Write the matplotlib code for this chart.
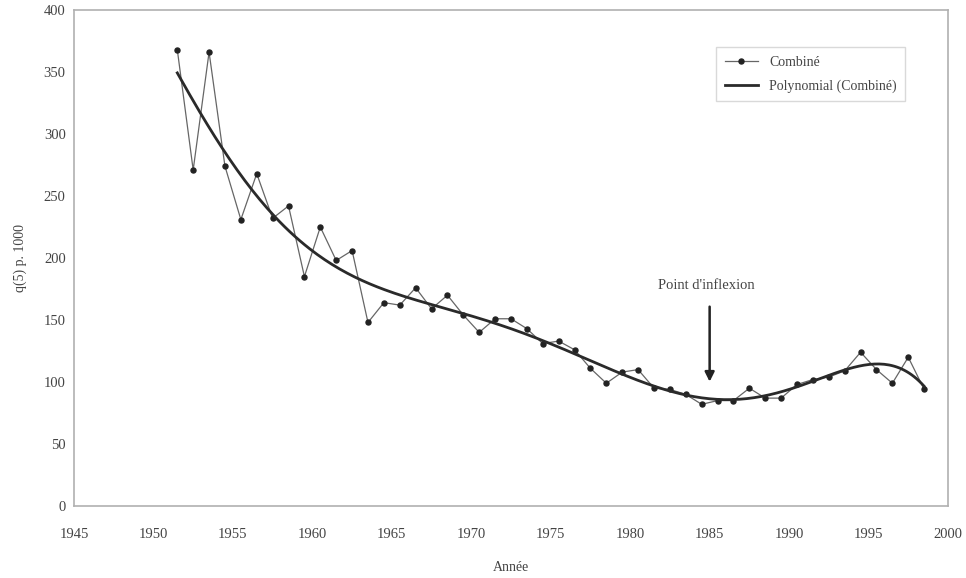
import numpy as np
import matplotlib.pyplot as plt

plt.rcParams['font.family'] = ['Liberation Serif', 'DejaVu Serif']

# Données : q(5) pour 1000, série combinée
annees = np.arange(1951.5, 1999.5, 1.0)
q5 = np.array([368, 271, 366, 274, 231, 268, 232, 242, 185, 225,
               198, 206, 148, 164, 162, 176, 159, 170, 154, 140,
               151, 151, 143, 131, 133, 126, 111, 99, 108, 110,
               95, 94, 90, 82, 85, 85, 95, 87, 87, 98,
               102, 104, 109, 124, 110, 99, 120, 94])

# Tendance polynomiale (ordre 6), x centré pour la stabilité
x0 = annees.mean()
coef = np.polyfit(annees - x0, q5, 6)
xs = np.linspace(annees[0], annees[-1], 300)
ys = np.polyval(coef, xs - x0)

fig = plt.figure(figsize=(9.66, 5.78), dpi=100)
ax = fig.add_axes([74/966, 1 - 506/578, (948-74)/966, (506-10)/578])

ax.plot(annees, q5, '-', color='#666666', lw=0.9, marker='o', ms=3.6,
        mfc='#222222', mec='#222222', label='Combiné')
ax.plot(xs, ys, '-', color='#2a2a2a', lw=2.0, label='Polynomial (Combiné)')

ax.set_xlim(1945, 2000)
ax.set_ylim(0, 400)
ax.set_xticks(np.arange(1945, 2001, 5))
ax.set_yticks(np.arange(0, 401, 50))
ax.tick_params(length=0, labelsize=10.5, colors='#444444')
ax.tick_params(axis='x', pad=16)
ax.tick_params(axis='y', pad=6)
for s in ax.spines.values():
    s.set_color('#b0b0b0')
    s.set_linewidth(1.2)

ax.set_xlabel('Année', fontsize=10, color='#444444', labelpad=14)
ax.set_ylabel('q(5) p. 1000', fontsize=10, color='#444444', labelpad=12)

# Flèche du point d'inflexion
ax.annotate('', xy=(1985, 98), xytext=(1985, 163),
            arrowprops=dict(arrowstyle='-|>', color='#222222', lw=1.8,
                            mutation_scale=14))
ax.text(1984.8, 178, "Point d'inflexion", ha='center', va='center',
        fontsize=10.5, color='#444444')

leg = ax.legend(loc='upper right', bbox_to_anchor=(0.951, 0.925),
                borderaxespad=0, fontsize=10, frameon=True, fancybox=False,
                handlelength=2.4, borderpad=0.6, labelspacing=0.8)
leg.get_frame().set_edgecolor('#d0d0d0')
for t in leg.get_texts():
    t.set_color('#444444')

fig.savefig('out.png', dpi=100)
